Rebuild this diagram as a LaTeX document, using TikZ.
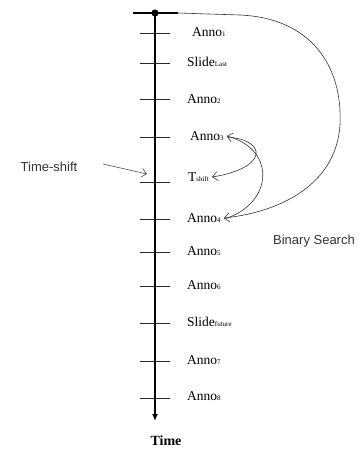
\documentclass[tikz,border=0pt]{standalone}
\usepackage{fontspec}
\setmainfont{Liberation Serif}
\newfontfamily\sansf{Liberation Sans}
\usetikzlibrary{arrows.meta}
\begin{document}
\begin{tikzpicture}[x=1pt,y=-1pt,
  lbl/.style={anchor=west,inner sep=0pt,font=\fontsize{13.5}{14}\selectfont},
  tickln/.style={line width=0.9pt,black!85},
  conn/.style={line width=0.6pt,black!80,-{Straight Barb[length=5pt,width=9pt]}},
  sanslbl/.style={inner sep=0pt,font=\sansf\fontsize{13}{14}\selectfont,text=black!80}]
\useasboundingbox (0,0) rectangle (360,451);
\newcommand\sbx[1]{{\fontsize{7}{8}\selectfont #1}}
% axis
\coordinate (top) at (155,13);
\coordinate (barL) at (133,13);
\coordinate (barR) at (178,13);
\coordinate (bot) at (155,421);
\draw[line width=2.6pt] (barL) -- (barR);
\fill (top) circle (3.6pt);
\draw[line width=2.2pt,-{Latex[length=7pt,width=6pt]}] (top) -- (bot);
% ticks and labels
\foreach \y/\nm in {33/t1,63/t2,99/t3,137/t4,182/t5,219/t6,252/t7,286/t8,323/t9,361/t10,398/t11}{
  \coordinate (\nm L) at (140,\y);
  \coordinate (\nm R) at (170,\y);
  \draw[tickln] (\nm L) -- (\nm R);
}
\node[lbl] (a1) at (192,32) {Anno\sbx{1}};
\node[lbl] (sl) at (187,62) {Slide\sbx{Last}};
\node[lbl] (a2) at (187,99) {Anno\sbx{2}};
\node[lbl] (a3) at (190,136) {Anno\sbx{3}};
\node[lbl] (ts) at (188,177) {T\sbx{shift}};
\node[lbl] (a4) at (187,218) {Anno\sbx{4}};
\node[lbl] (a5) at (187,251) {Anno\sbx{5}};
\node[lbl] (a6) at (187,285) {Anno\sbx{6}};
\node[lbl] (sf) at (187,322) {Slide\sbx{future}};
\node[lbl] (a7) at (187,360) {Anno\sbx{7}};
\node[lbl] (a8) at (187,396) {Anno\sbx{8}};
\node[inner sep=0pt,font=\bfseries\fontsize{14}{15}\selectfont] (time) at (166,441) {Time};
% side labels
\node[sanslbl] (tsl) at (49,167) {Time-shift};
\node[sanslbl] (bs) at (314,241) {Binary Search};
\coordinate (tsStart) at (103,164);
\coordinate (tsTip) at (147,174);
\draw[conn,black!70] (tsStart) -- (tsTip);
% connectors
\draw[conn] (barR) -- (240,15) .. controls (310,18) and (343,65) .. (340,125)
   .. controls (336,185) and (280,212) .. ([xshift=3pt]a4.east);
\draw[conn] ([xshift=3pt,yshift=-1pt]a3.east) .. controls (268,140) and (268,168) .. ([xshift=3pt]ts.east);
\draw[conn] ([xshift=3pt,yshift=-1pt]a4.east) .. controls (272,205) and (278,150) .. ([xshift=3pt]a3.east);
\end{tikzpicture}
\end{document}
